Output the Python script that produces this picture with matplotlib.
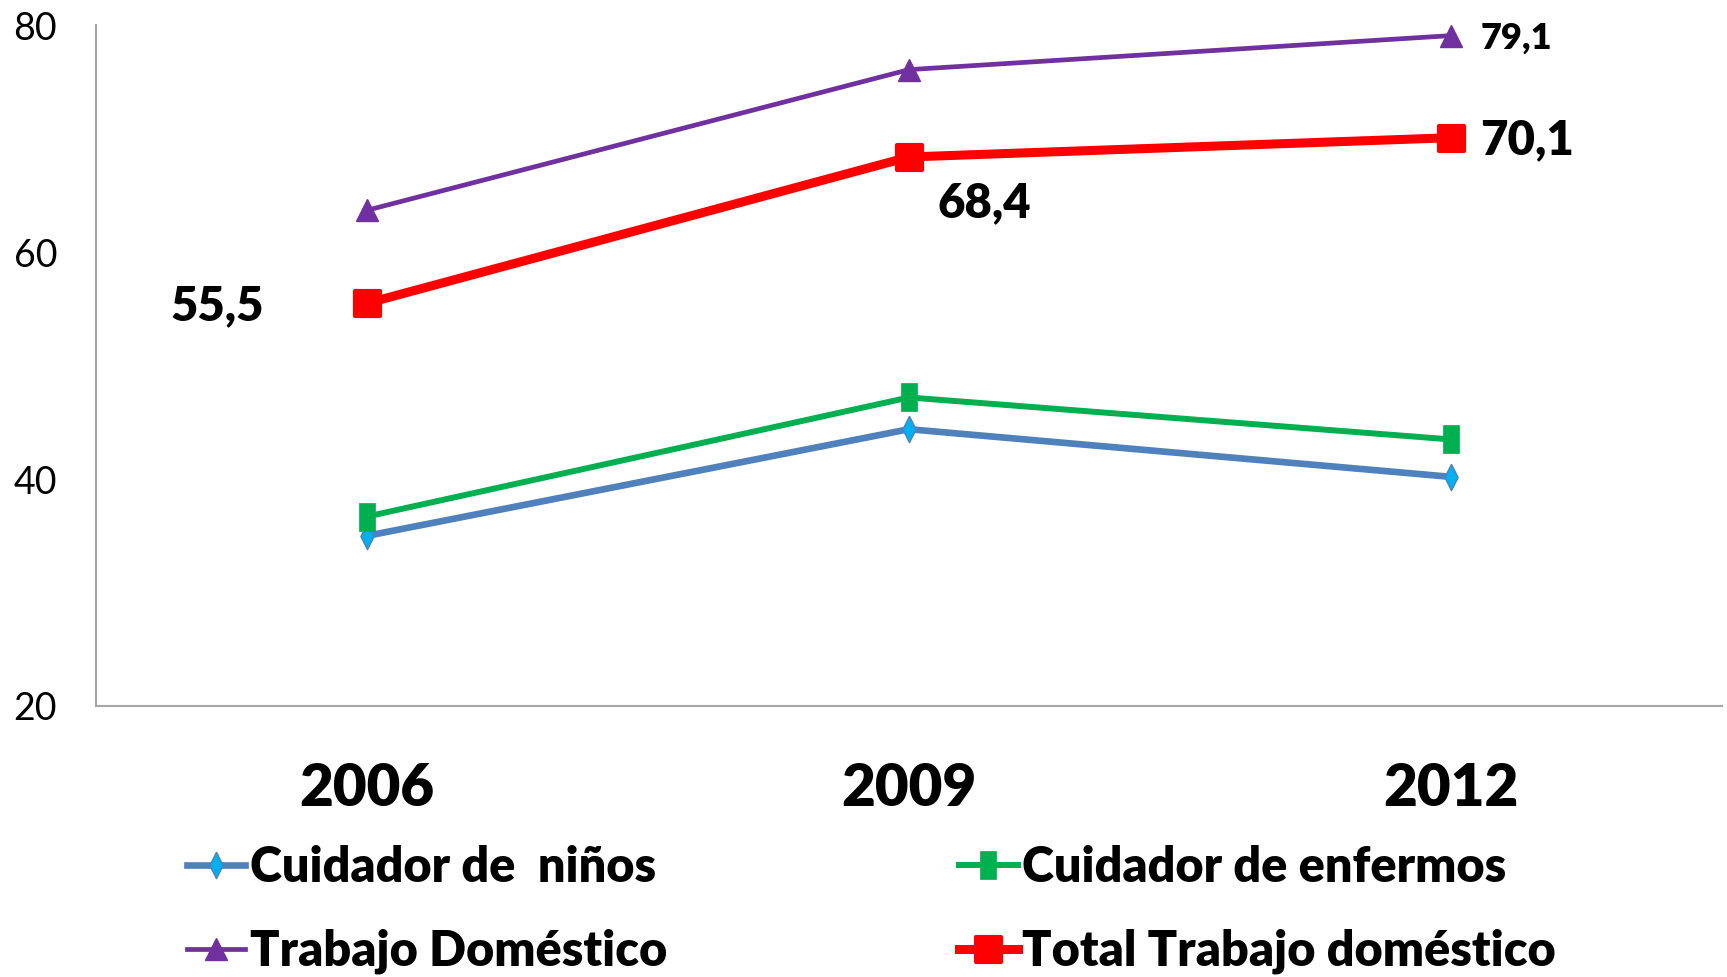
import numpy as np
import matplotlib
matplotlib.use("Agg")
import matplotlib.pyplot as plt
from matplotlib.markers import MarkerStyle

plt.rcParams['font.family'] = ['Lato', 'DejaVu Sans']

# data
years = ['2006', '2009', '2012']
ninos = [35.0, 44.4, 40.2]
enfermos = [36.7, 47.2, 43.5]
domestico = [63.7, 76.1, 79.1]
total = [55.5, 68.4, 70.1]

x = np.arange(len(years)) + 0.5

fig = plt.figure(figsize=(17.27, 9.77), dpi=100)
ax = fig.add_axes([0.0556, 0.2774, 0.9414, 0.6966])

# thin tall markers as in the (stretched) original
diamond = MarkerStyle([(0, 1), (0.5, 0), (0, -1), (-0.5, 0), (0, 1)])
tall_sq = MarkerStyle([(-0.6, -1), (0.6, -1), (0.6, 1), (-0.6, 1), (-0.6, -1)])
round_sq = MarkerStyle('s', joinstyle='round')

l_ninos, = ax.plot(x, ninos, color='#4F81BD', lw=4.8, marker=diamond, ms=19,
                   mfc='#00B0F0', mec='#4F81BD', mew=1, label='Cuidador de  niños')
l_enf, = ax.plot(x, enfermos, color='#00B050', lw=4.3, marker=tall_sq, ms=20,
                 mfc='#00B050', mec='#00B050', mew=0.5, label='Cuidador de enfermos')
l_dom, = ax.plot(x, domestico, color='#7030A0', lw=3.4, marker='^', ms=16,
                 mfc='#7030A0', mec='#7030A0', label='Trabajo Doméstico')
l_tot, = ax.plot(x, total, color='#FF0000', lw=6.5, marker=round_sq, ms=18,
                 mfc='#FF0000', mec='#FF0000', mew=3, label='Total Trabajo doméstico')

# data labels
ax.annotate('55,5', (x[0], total[0]), xytext=(-108, -2), textcoords='offset points',
            ha='center', va='center', fontsize=34, fontweight='heavy')
ax.annotate('68,4', (x[1], total[1]), xytext=(54, -33), textcoords='offset points',
            ha='center', va='center', fontsize=34, fontweight='heavy')
ax.annotate('70,1', (x[2], total[2]), xytext=(55, -2), textcoords='offset points',
            ha='center', va='center', fontsize=34, fontweight='heavy')
ax.annotate('79,1', (x[2], domestico[2]), xytext=(47, -2), textcoords='offset points',
            ha='center', va='center', fontsize=26, fontweight='heavy')

ax.set_xlim(0, 3)
ax.set_ylim(20, 80)
ax.set_yticks([20, 40, 60, 80])
ax.set_xticks(x)
ax.set_xticklabels(years, fontsize=42, fontweight='heavy')
ax.tick_params(axis='y', length=0, labelsize=27, pad=28)
ax.tick_params(axis='x', length=0, pad=40)

for side in ['top', 'right']:
    ax.spines[side].set_visible(False)
for side in ['left', 'bottom']:
    ax.spines[side].set_color('#A6A6A6')
    ax.spines[side].set_linewidth(1.5)

fig.legend(handles=[l_ninos, l_dom, l_enf, l_tot], ncol=2, loc='upper left',
           bbox_to_anchor=(0.083, 0.18), frameon=False,
           prop={'size': 35, 'weight': 'heavy'}, handlelength=1.2,
           handletextpad=0.1, columnspacing=6.0, labelspacing=0.8)

fig.savefig('out.png', dpi=100)
